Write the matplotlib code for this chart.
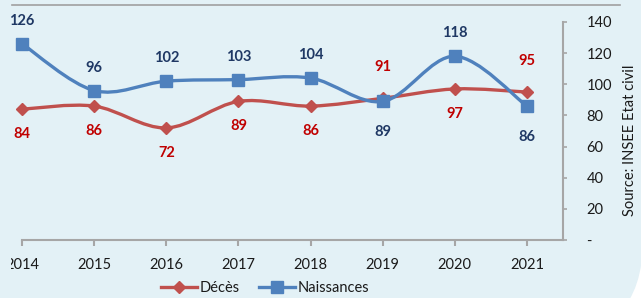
import matplotlib.pyplot as plt
import numpy as np
from matplotlib.path import Path
from matplotlib.patches import PathPatch, FancyBboxPatch
from matplotlib.lines import Line2D
from matplotlib.transforms import Bbox

plt.rcParams['font.family'] = ['Lato', 'DejaVu Sans']

years = [2014, 2015, 2016, 2017, 2018, 2019, 2020, 2021]
deces = [84, 86, 72, 89, 86, 91, 97, 95]
naissances = [126, 96, 102, 103, 104, 89, 118, 86]
# label side per point: 'a' above, 'b' below
deces_side = ['b', 'b', 'b', 'b', 'b', 'a', 'b', 'a']
naiss_side = ['a', 'a', 'a', 'a', 'a', 'b', 'a', 'b']
y_ticks = [0, 20, 40, 60, 80, 100, 120, 140]

BG = '#E3F1F6'
AXIS_GREY = '#A6A6A6'
RED_LINE = '#C0504D'
BLUE_LINE = '#4F81BD'
RED_TXT = '#C00000'
BLUE_TXT = '#1F3864'

W, H = 641, 298
fig = plt.figure(figsize=(W / 100, H / 100), dpi=100, facecolor='white')

# light blue panel with a rounded bottom-right corner
fig.patches.append(FancyBboxPatch((-1.0, -0.41), 7.43, 4.5, boxstyle='round,pad=0,rounding_size=0.99',
                                  transform=fig.dpi_scale_trans, facecolor=BG, edgecolor='none',
                                  figure=fig, zorder=-1))

ax = fig.add_axes([-14 / W, 1 - 240 / H, 577 / W, 218 / H])
ax.set_zorder(1)
ax.set_facecolor('none')


def smooth_path(xs, ys):
    # Excel-like smoothed line as cubic bezier segments through the points
    pts = np.column_stack([xs, ys]).astype(float)
    n = len(pts)
    verts = [pts[0]]
    codes = [Path.MOVETO]
    for i in range(n - 1):
        p0 = pts[i - 1] if i > 0 else pts[i]
        p1 = pts[i]
        p2 = pts[i + 1]
        p3 = pts[i + 2] if i + 2 < n else pts[i + 1]
        c1 = p1 + (p2 - p0) / 6.0
        c2 = p2 - (p3 - p1) / 6.0
        verts += [c1, c2, p2]
        codes += [Path.CURVE4] * 3
    return Path(verts, codes)


for vals, col, mk, ms in [(deces, RED_LINE, 'D', 6), (naissances, BLUE_LINE, 's', 8)]:
    ax.add_patch(PathPatch(smooth_path(years, vals), facecolor='none', edgecolor=col,
                           lw=2.4, capstyle='round', zorder=3))
    ax.plot(years, vals, ls='none', marker=mk, ms=ms, color=col, zorder=4, clip_on=False)

offsets = {('r', 'a'): 31, ('r', 'b'): -25, ('b', 'a'): 23, ('b', 'b'): -31}
for vals, sides, key, tc in [(deces, deces_side, 'r', RED_TXT), (naissances, naiss_side, 'b', BLUE_TXT)]:
    for x, v, s in zip(years, vals, sides):
        ax.annotate(str(v), (x, v), xytext=(0, offsets[(key, s)] * 0.72), textcoords='offset points',
                    ha='center', va='center', fontsize=10.5, fontweight='bold', color=tc, zorder=5)

ax.set_xlim(2013.5, 2021.5)
ax.set_ylim(0, 140)
ax.set_xticks(years)
ax.set_xticklabels([str(y) for y in years])
ax.set_yticks(y_ticks)
ax.set_yticklabels(['-' if t == 0 else str(t) for t in y_ticks])
ax.yaxis.tick_right()
for side in ['left', 'top']:
    ax.spines[side].set_visible(False)
for side in ['right', 'bottom']:
    ax.spines[side].set_color(AXIS_GREY)
    ax.spines[side].set_linewidth(1.5)
ax.spines['bottom'].set_bounds(years[0], 2021.5)
ax.tick_params(axis='x', direction='out', length=4, width=1.5, color=AXIS_GREY, pad=9,
               labelsize=10.5, labelcolor='#1a1a1a')
ax.tick_params(axis='y', direction='out', length=3, width=1.2, color=AXIS_GREY, pad=14,
               labelsize=10.5, labelcolor='#1a1a1a')
for lab in ax.get_yticklabels():
    lab.set_horizontalalignment('left')

# first year label is cut at the left edge of the panel
first = ax.get_xticklabels()[0]
first.set_clip_box(Bbox.from_extents(11, 0, W, H))
first.set_clip_on(True)

# top rule
fig.add_artist(Line2D([12 / W, 620 / W], [1 - 5 / H, 1 - 5 / H], color='#A0A0A0', lw=1.2))

fig.text(630 / W, 1 - 140 / H, 'Source: INSEE Etat civil', rotation=90, ha='center', va='center',
         fontsize=10.5, color='#1a1a1a')

handles = [Line2D([], [], color=RED_LINE, lw=2.4, marker='D', ms=6),
           Line2D([], [], color=BLUE_LINE, lw=2.4, marker='s', ms=8)]
fig.legend(handles, ['Décès', 'Naissances'], loc='center', bbox_to_anchor=(265 / W, 1 - 288 / H),
           ncol=2, frameon=False, fontsize=10.5, handlelength=2.5, handletextpad=0.15,
           columnspacing=1.3, labelcolor='#1a1a1a')

fig.savefig('out.png', dpi=100, facecolor='white')
